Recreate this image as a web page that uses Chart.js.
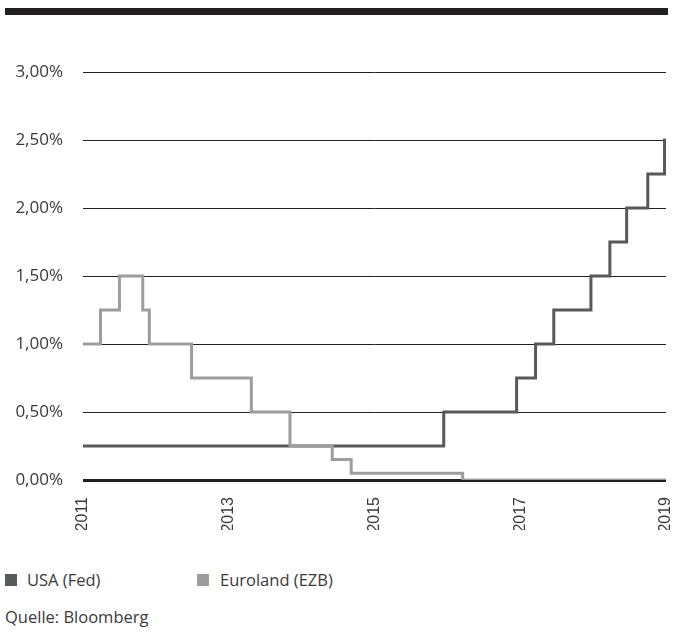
<!DOCTYPE html>
<html>
<head>
<meta charset="utf-8">
<script src="https://cdn.jsdelivr.net/npm/chart.js@4.4.1/dist/chart.umd.min.js"></script>
<style>
  html, body { margin: 0; padding: 0; background: #fff; }
  body { width: 673px; height: 635px; position: relative; overflow: hidden;
         font-family: "Open Sans", sans-serif; color: #3a3a3a; }
  #topbar { position: absolute; left: 5px; top: 8px; width: 663px; height: 7px; background: #231f20; }
  #wrap { position: absolute; left: 0; top: 0; width: 673px; height: 545px; }
  .item { position: absolute; top: 569px; font-size: 16.5px; line-height: 22px; white-space: nowrap; }
  .swatch { position: absolute; top: 5px; width: 12px; height: 12px; }
  #source { position: absolute; left: 5px; top: 606px; font-size: 16.5px; line-height: 22px; }
</style>
</head>
<body>
<div id="topbar"></div>
<div id="wrap"><canvas id="chart"></canvas></div>
<div class="item" style="left:5px"><span class="swatch" id="sw0" style="left:0"></span><span style="margin-left:22px" id="lg0"></span></div>
<div class="item" style="left:197px"><span class="swatch" id="sw1" style="left:0"></span><span style="margin-left:23px" id="lg1"></span></div>
<div id="source">Quelle: Bloomberg</div>
<script>
// Leitzinsen: Datum als Dezimaljahr, Zinssatz in Prozent (gilt ab diesem Datum)
const seriesNames = ['USA (Fed)', 'Euroland (EZB)'];
const seriesColors = ['#58595b', '#9d9d9d'];

const fedDates = [2011.00, 2015.95, 2016.95, 2017.21, 2017.46, 2017.97, 2018.23, 2018.46, 2018.75, 2018.98, 2019.00];
const fedRates = [0.25, 0.50, 0.75, 1.00, 1.25, 1.50, 1.75, 2.00, 2.25, 2.50, 2.50];

const ezbDates = [2011.00, 2011.24, 2011.50, 2011.82, 2011.91, 2012.49, 2013.31, 2013.84, 2014.42, 2014.68, 2016.21, 2019.00];
const ezbRates = [1.00, 1.25, 1.50, 1.25, 1.00, 0.75, 0.50, 0.25, 0.15, 0.05, 0.00, 0.00];

const yearTicks = [2011, 2013, 2015, 2017, 2019];
const rateTicks = [0, 0.5, 1.0, 1.5, 2.0, 2.5, 3.0];

const toPoints = (xs, ys) => xs.map((x, i) => ({ x: x, y: ys[i] }));

document.getElementById('sw0').style.background = seriesColors[0];
document.getElementById('sw1').style.background = seriesColors[1];
document.getElementById('lg0').textContent = seriesNames[0];
document.getElementById('lg1').textContent = seriesNames[1];

new Chart(document.getElementById('chart'), {
  type: 'line',
  data: {
    datasets: [
      { label: seriesNames[1], data: toPoints(ezbDates, ezbRates), borderColor: seriesColors[1],
        borderWidth: 3, stepped: true, pointRadius: 0, order: 0, borderJoinStyle: 'miter' },
      { label: seriesNames[0], data: toPoints(fedDates, fedRates), borderColor: seriesColors[0],
        borderWidth: 3, stepped: true, pointRadius: 0, order: 1, borderJoinStyle: 'miter' }
    ]
  },
  options: {
    responsive: true,
    maintainAspectRatio: false,
    animation: false,
    layout: { padding: { top: 72, right: 7, bottom: 15, left: 0 } },
    plugins: { legend: { display: false }, tooltip: { enabled: false } },
    scales: {
      x: {
        type: 'linear',
        min: yearTicks[0],
        max: yearTicks[yearTicks.length - 1],
        afterBuildTicks: s => { s.ticks = yearTicks.map(v => ({ value: v })); },
        // the rotated end labels may run to the page edge
        afterFit: s => { s.height = 50; s.paddingLeft = 0; s.paddingRight = 0; },
        grid: { display: false },
        border: { display: false },
        ticks: {
          minRotation: 90, maxRotation: 90, padding: 9, autoSkip: false,
          color: '#3a3a3a',
          font: { family: '"Liberation Sans", Arial, sans-serif', size: 16 },
          callback: v => String(v)
        }
      },
      y: {
        min: 0,
        max: 3,
        afterBuildTicks: s => { s.ticks = rateTicks.map(v => ({ value: v })); },
        afterFit: s => { s.width = 83; },
        border: { display: false },
        grid: {
          color: '#231f20',
          lineWidth: c => (c.tick && c.tick.value === 0 ? 3 : 1),
          drawTicks: false
        },
        ticks: {
          padding: 20,
          color: '#3a3a3a',
          font: { family: '"Open Sans", sans-serif', size: 17 },
          callback: v => v.toFixed(2).replace('.', ',') + '%'
        }
      }
    }
  }
});
</script>
</body>
</html>
